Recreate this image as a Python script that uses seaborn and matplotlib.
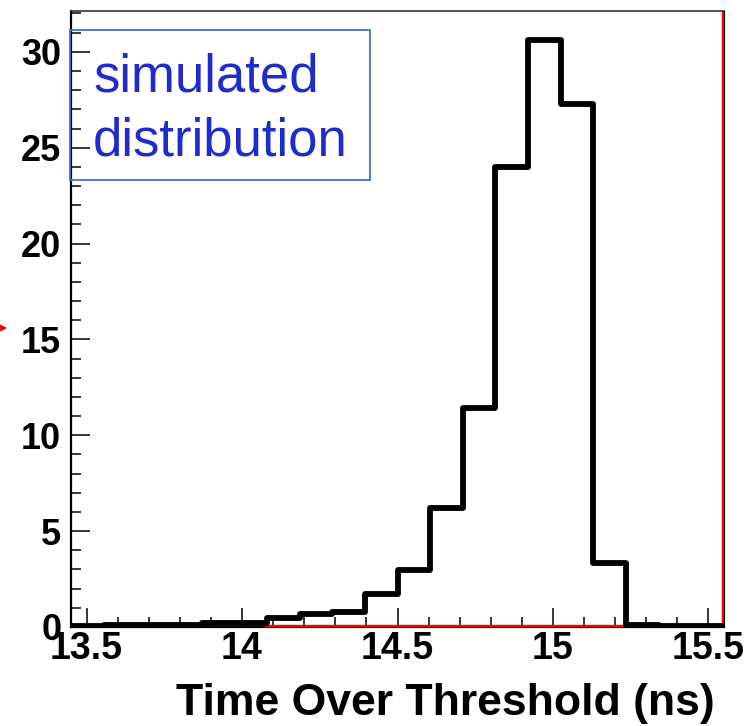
import numpy as np
import pandas as pd
import matplotlib
matplotlib.use("Agg")
import matplotlib.pyplot as plt
from matplotlib.patches import Rectangle
from matplotlib.ticker import MultipleLocator
import seaborn as sns

# ---- data ----
x_min, x_max, n_bins = 13.45, 15.55, 20
counts = [0.06, 0.12, 0.12, 0.12, 0.2, 0.2, 0.45, 0.68, 0.8, 1.72,
          2.95, 6.2, 11.4, 24.0, 30.6, 27.3, 3.35, 0.12, 0.06, 0.06]
red_x = [14.08, 15.55, 15.55]
red_y = [0.0, 0.0, 40.0]
x_ticks = [13.5, 14, 14.5, 15, 15.5]
x_tick_labels = ["13.5", "14", "14.5", "15", "15.5"]
y_ticks = [0, 5, 10, 15, 20, 25, 30]
box_lines = ["simulated", "distribution"]
x_label = "Time Over Threshold (ns)"

edges = [float(e) for e in np.linspace(x_min, x_max, n_bins + 1)]
centers = [(a + b) / 2 for a, b in zip(edges[:-1], edges[1:])]
df = pd.DataFrame({"tot": centers, "w": counts})

sns.set_style("ticks")
plt.rcParams["font.family"] = ["Liberation Sans", "DejaVu Sans"]
plt.rcParams["text.color"] = "black"
plt.rcParams["axes.labelcolor"] = "black"
plt.rcParams["xtick.labelcolor"] = "black"
plt.rcParams["ytick.labelcolor"] = "black"

W, H = 756, 726
fig = plt.figure(figsize=(W / 100, H / 100), dpi=100)
ax = fig.add_axes([71 / W, 1 - 627 / H, (724 - 71) / W, (627 - 11) / H])

sns.histplot(data=df, x="tot", weights="w", bins=edges, element="step",
             fill=False, color="black", linewidth=4.2, ax=ax, zorder=3)
ax.plot(red_x, red_y, color="red", linewidth=3.2, zorder=2.6)

ax.set_xlim(x_min, x_max)
ax.set_ylim(0, 32.13)

ax.set_xticks(x_ticks)
ax.set_xticklabels(x_tick_labels)
ax.set_yticks(y_ticks)
ax.xaxis.set_minor_locator(MultipleLocator(0.1))
ax.yaxis.set_minor_locator(MultipleLocator(1))
ax.tick_params(axis="both", which="both", direction="in", color="black",
               width=1.1, top=False, right=False)
ax.tick_params(axis="both", which="major", length=14)
ax.tick_params(axis="both", which="minor", length=7)
ax.tick_params(axis="y", which="major", labelsize=26, pad=7, labelcolor="black")
ax.tick_params(axis="x", which="major", labelsize=27, pad=3, labelcolor="black")
for lab in ax.get_xticklabels() + ax.get_yticklabels():
    lab.set_fontweight("bold")

ax.set_ylabel("")
ax.set_xlabel(x_label, fontsize=32, fontweight="bold", ha="right", va="baseline",
              color="black")
ax.xaxis.set_label_coords((715 - 71) / (724 - 71), -(715 - 627) / (627 - 11))

for side in ["left", "bottom"]:
    ax.spines[side].set_color("black")
    ax.spines[side].set_linewidth(1.6)
ax.spines["top"].set_color("#333333")
ax.spines["top"].set_linewidth(1.2)
ax.spines["right"].set_color("black")
ax.spines["right"].set_linewidth(0.8)
ax.spines["right"].set_zorder(4)

# text box
bx0 = (70 - 71) / (724 - 71)
bx1 = (370 - 71) / (724 - 71)
by0 = (627 - 180) / (627 - 11)
by1 = (627 - 30) / (627 - 11)
ax.add_patch(Rectangle((bx0, by0), bx1 - bx0, by1 - by0, transform=ax.transAxes,
                       facecolor="none", edgecolor="#3f6fd0", linewidth=1.3,
                       clip_on=False, zorder=5))
tx = (93 - 71) / (724 - 71)
ax.text(tx, (627 - 92) / (627 - 11), box_lines[0], transform=ax.transAxes,
        fontsize=38, color="#1f2ccc", ha="left", va="baseline")
ax.text(tx, (627 - 155) / (627 - 11), box_lines[1], transform=ax.transAxes,
        fontsize=38, color="#1f2ccc", ha="left", va="baseline")

# small red arrow at the left edge
ax.annotate("", xy=(10, H - 328), xytext=(-20, H - 328), xycoords="figure pixels",
            textcoords="figure pixels",
            arrowprops=dict(arrowstyle="-|>", color="red", lw=1.5, mutation_scale=18))

fig.savefig("out.png", dpi=100)
